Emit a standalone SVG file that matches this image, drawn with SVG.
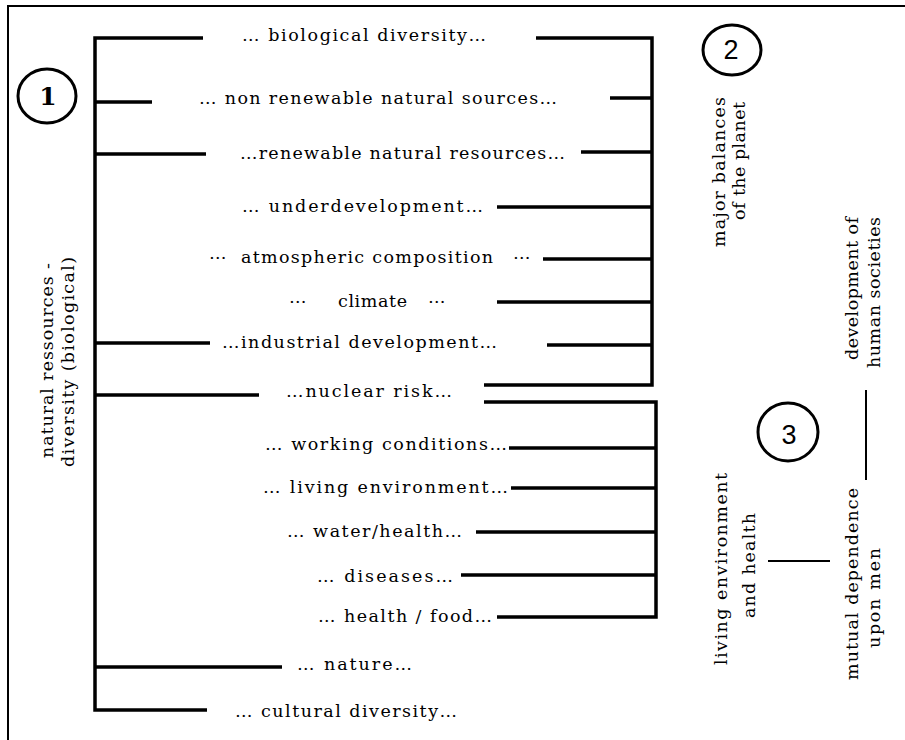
<svg xmlns="http://www.w3.org/2000/svg" width="905" height="740" viewBox="0 0 905 740">
  <style>
    .t{font-family:"DejaVu Serif","Liberation Serif",serif;font-size:17.5px;fill:#000}
    .bar{fill:none;stroke:#000;stroke-width:3.5;stroke-linecap:butt;stroke-linejoin:miter}
    .thin{fill:none;stroke:#000;stroke-width:2}
    .ring{fill:none;stroke:#000;stroke-width:3}
    .num{font-family:"Liberation Sans","DejaVu Sans",sans-serif;font-size:27px;fill:#000;text-anchor:middle}
    .num1{font-family:"DejaVu Serif","Liberation Serif",serif;font-weight:bold;font-size:25px;fill:#000;text-anchor:middle}
  </style>

  <!-- page and frame -->
  <rect x="0" y="0" width="905" height="740" fill="#fff"/>
  <rect x="8" y="6" width="920" height="760" fill="none" stroke="#000" stroke-width="2"/>

  <!-- brackets and branch lines -->
  <g id="connectors">
    <!-- left trunk: natural resources / diversity -->
    <path class="bar" d="M203,38 H95 V710 H207"/>
    <path class="bar" d="M95,102 H152"/>
    <path class="bar" d="M95,154 H206"/>
    <path class="bar" d="M95,343 H210"/>
    <path class="bar" d="M95,395 H259"/>
    <path class="bar" d="M95,667 H282"/>
    <!-- right bracket: major balances of the planet -->
    <path class="bar" d="M536,38 H652 V385 H484"/>
    <path class="bar" d="M610,98 H652"/>
    <path class="bar" d="M581,152 H652"/>
    <path class="bar" d="M497,207 H652"/>
    <path class="bar" d="M543,259 H652"/>
    <path class="bar" d="M497,302 H652"/>
    <path class="bar" d="M547,345 H652"/>
    <!-- right bracket: living environment and health -->
    <path class="bar" d="M484,402 H656 V617 H497"/>
    <path class="bar" d="M509,448 H656"/>
    <path class="bar" d="M511,488 H656"/>
    <path class="bar" d="M476,532 H656"/>
    <path class="bar" d="M461,575 H656"/>
    <!-- thin separators on the right -->
    <path class="thin" d="M866,390 V480"/>
    <path class="thin" d="M768,561 H830"/>
  </g>

  <!-- numbered markers -->
  <g id="marker-1">
    <ellipse class="ring" cx="47" cy="96" rx="29" ry="27"/>
    <text class="num1" x="48" y="105">1</text>
  </g>
  <g id="marker-2">
    <ellipse class="ring" cx="732" cy="50" rx="29" ry="25"/>
    <text class="num" x="731" y="59">2</text>
  </g>
  <g id="marker-3">
    <ellipse class="ring" cx="788" cy="432" rx="30" ry="29"/>
    <text class="num" x="789" y="444">3</text>
  </g>

  <!-- rotated group titles -->
  <g id="title-natural-resources">
    <text class="t" transform="translate(53,458) rotate(-90)" textLength="195" lengthAdjust="spacing">natural ressources -</text>
    <text class="t" transform="translate(74,467) rotate(-90)" textLength="210" lengthAdjust="spacing">diversity (biological)</text>
  </g>
  <g id="title-major-balances">
    <text class="t" transform="translate(725,247) rotate(-90)" textLength="150" lengthAdjust="spacing">major balances</text>
    <text class="t" transform="translate(745,220) rotate(-90)" textLength="118" lengthAdjust="spacing">of the planet</text>
  </g>
  <g id="title-human-societies">
    <text class="t" transform="translate(858,360) rotate(-90)" textLength="143" lengthAdjust="spacing">development of</text>
    <text class="t" transform="translate(880,368) rotate(-90)" textLength="151" lengthAdjust="spacing">human societies</text>
  </g>
  <g id="title-living-environment">
    <text class="t" transform="translate(727,665) rotate(-90)" textLength="192" lengthAdjust="spacing">living environment</text>
    <text class="t" transform="translate(755,618) rotate(-90)" textLength="105" lengthAdjust="spacing">and health</text>
  </g>
  <g id="title-mutual-dependence">
    <text class="t" transform="translate(858,680) rotate(-90)" textLength="192" lengthAdjust="spacing">mutual dependence</text>
    <text class="t" transform="translate(880,648) rotate(-90)" textLength="100" lengthAdjust="spacing">upon men</text>
  </g>

  <!-- branch labels -->
  <g id="biological-diversity"><text class="t" x="242" y="41" textLength="244" lengthAdjust="spacing">… biological diversity…</text></g>
  <g id="non-renewable"><text class="t" x="199" y="104" textLength="358" lengthAdjust="spacing">… non renewable natural sources…</text></g>
  <g id="renewable"><text class="t" x="240" y="159" textLength="325" lengthAdjust="spacing">…renewable natural resources…</text></g>
  <g id="underdevelopment"><text class="t" x="242" y="212" textLength="241" lengthAdjust="spacing">… underdevelopment…</text></g>
  <g id="atmospheric-composition">
    <text class="t" x="209" y="259" textLength="21" lengthAdjust="spacing">…</text>
    <text class="t" x="241" y="263" textLength="252" lengthAdjust="spacing">atmospheric composition</text>
    <text class="t" x="513" y="259" textLength="20" lengthAdjust="spacing">…</text>
  </g>
  <g id="climate">
    <text class="t" x="289" y="303" textLength="19" lengthAdjust="spacing">…</text>
    <text class="t" x="338" y="307" textLength="69" lengthAdjust="spacing">climate</text>
    <text class="t" x="428" y="303" textLength="19" lengthAdjust="spacing">…</text>
  </g>
  <g id="industrial-development"><text class="t" x="222" y="348" textLength="275" lengthAdjust="spacing">…industrial development…</text></g>
  <g id="nuclear-risk"><text class="t" x="286" y="397" textLength="166" lengthAdjust="spacing">…nuclear risk…</text></g>
  <g id="working-conditions"><text class="t" x="265" y="450" textLength="242" lengthAdjust="spacing">… working conditions…</text></g>
  <g id="living-environment"><text class="t" x="263" y="493" textLength="245" lengthAdjust="spacing">… living environment…</text></g>
  <g id="water-health"><text class="t" x="287" y="537" textLength="175" lengthAdjust="spacing">… water/health…</text></g>
  <g id="diseases"><text class="t" x="317" y="582" textLength="136" lengthAdjust="spacing">… diseases…</text></g>
  <g id="health-food"><text class="t" x="318" y="622" textLength="174" lengthAdjust="spacing">… health / food…</text></g>
  <g id="nature"><text class="t" x="297" y="670" textLength="115" lengthAdjust="spacing">… nature…</text></g>
  <g id="cultural-diversity"><text class="t" x="235" y="717" textLength="222" lengthAdjust="spacing">… cultural diversity…</text></g>
</svg>
